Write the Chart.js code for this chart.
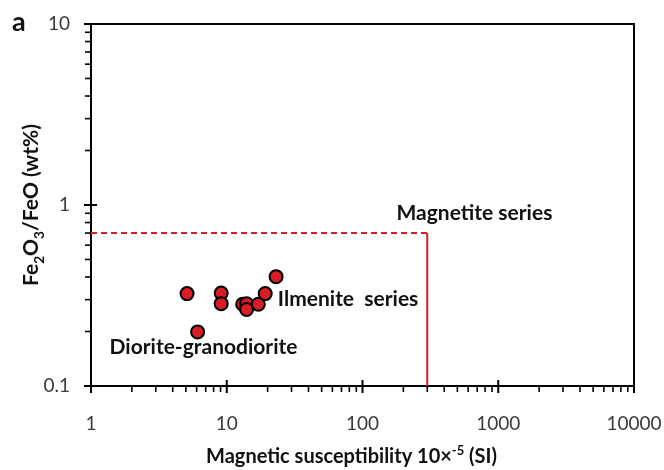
<!DOCTYPE html>
<html>
<head>
<meta charset="utf-8">
<script src="https://cdn.jsdelivr.net/npm/chart.js@4.4.0/dist/chart.umd.min.js"></script>
<style>
  body { margin: 0; background: #fff; }
  #wrap { width: 664px; height: 470px; }
</style>
</head>
<body>
<div id="wrap"><canvas id="chart" width="664" height="470"></canvas></div>
<script>
// samples: magnetic susceptibility (10^-5 SI) and Fe2O3/FeO (wt%)
const susceptibility = [5.1, 9.1, 9.1, 13.1, 14.0, 14.0, 17.1, 19.2, 23.1, 6.1];
const feRatio = [0.324, 0.326, 0.285, 0.283, 0.285, 0.265, 0.283, 0.324, 0.402, 0.199];

// magnetite / ilmenite series boundary
const boundaryX = 300;
const boundaryY = 0.7;

const xTicks = [1, 10, 100, 1000, 10000];
const yTicks = [0.1, 1, 10];
const xTickLabels = ["1", "10", "100", "1000", "10000"];
const yTickLabels = ["0.1", "1", "10"];

const labelTexts = ["Magnetite series", "Ilmenite  series", "Diorite-granodiorite"];
const labelAt = [[178, 0.9], [23.8, 0.303], [1.37, 0.164]];

const red = "#d81e24";
const font = "Lato, 'Open Sans', sans-serif";

const points = susceptibility.map((x, i) => ({ x: x, y: feRatio[i] }));

function minorValues(ticks) {
  const out = [];
  for (let i = 0; i < ticks.length - 1; i++) {
    for (let k = 2; k <= 9; k++) out.push(ticks[i] * k);
  }
  return out;
}

// draws text made of parts with sub/superscripts
function drawParts(ctx, parts, size, x, y) {
  let total = 0;
  parts.forEach(p => {
    ctx.font = "bold " + (p.s ? size * 0.65 : size) + "px " + font;
    total += ctx.measureText(p.t).width;
  });
  let cx = x - total / 2;
  parts.forEach(p => {
    ctx.font = "bold " + (p.s ? size * 0.65 : size) + "px " + font;
    let dy = 0;
    if (p.s === "sub") dy = size * 0.3;
    if (p.s === "sup") dy = -size * 0.38;
    ctx.fillText(p.t, cx, y + dy);
    cx += ctx.measureText(p.t).width;
  });
}

const decor = {
  id: "decor",
  beforeDatasetsDraw(chart) {
    const ctx = chart.ctx;
    const a = chart.chartArea;
    const xs = chart.scales.x, ys = chart.scales.y;
    ctx.save();
    ctx.strokeStyle = "#000";
    // frame
    ctx.lineWidth = 2;
    ctx.strokeRect(a.left, a.top, a.right - a.left, a.bottom - a.top);
    // x ticks
    xTicks.forEach(v => {
      const px = xs.getPixelForValue(v);
      ctx.beginPath(); ctx.moveTo(px, a.bottom - 6); ctx.lineTo(px, a.bottom + 7); ctx.stroke();
    });
    ctx.lineWidth = 1.6;
    minorValues(xTicks).forEach(v => {
      const px = xs.getPixelForValue(v);
      ctx.beginPath(); ctx.moveTo(px, a.bottom); ctx.lineTo(px, a.bottom + 6); ctx.stroke();
    });
    // y ticks
    ctx.lineWidth = 2;
    yTicks.forEach(v => {
      const py = ys.getPixelForValue(v);
      ctx.beginPath(); ctx.moveTo(a.left - 7, py); ctx.lineTo(a.left + 6, py); ctx.stroke();
    });
    ctx.lineWidth = 1.6;
    minorValues(yTicks).forEach(v => {
      const py = ys.getPixelForValue(v);
      ctx.beginPath(); ctx.moveTo(a.left - 6, py); ctx.lineTo(a.left, py); ctx.stroke();
    });
    ctx.restore();
  },
  afterDraw(chart) {
    const ctx = chart.ctx;
    const a = chart.chartArea;
    const xs = chart.scales.x, ys = chart.scales.y;
    ctx.save();
    ctx.fillStyle = "#111";
    ctx.textBaseline = "middle";
    ctx.textAlign = "left";
    ctx.font = "bold 21px " + font;
    labelTexts.forEach((t, i) => {
      ctx.fillText(t, xs.getPixelForValue(labelAt[i][0]), ys.getPixelForValue(labelAt[i][1]));
    });
    // panel letter
    ctx.textBaseline = "alphabetic";
    ctx.font = "bold 27px " + font;
    ctx.fillText("a", 12, 31);
    // x title
    drawParts(ctx, [
      { t: "Magnetic susceptibility 10\u00d7" }, { t: "-5", s: "sup" }, { t: " (SI)" }
    ], 20, (a.left + a.right) / 2 - 11, 463);
    // y title
    ctx.translate(38, (a.top + a.bottom) / 2);
    ctx.rotate(-Math.PI / 2);
    drawParts(ctx, [
      { t: "Fe" }, { t: "2", s: "sub" }, { t: "O" }, { t: "3", s: "sub" }, { t: "/FeO (wt%)" }
    ], 21, 0, 0);
    ctx.restore();
  }
};

new Chart(document.getElementById("chart"), {
  type: "scatter",
  data: {
    datasets: [
      {
        data: points,
        backgroundColor: red,
        borderColor: "#000",
        borderWidth: 2,
        pointRadius: 6.5,
        order: 0
      },
      {
        type: "line",
        data: [{ x: xTicks[0], y: boundaryY }, { x: boundaryX, y: boundaryY }],
        borderColor: red,
        borderWidth: 2,
        borderDash: [6, 4],
        pointRadius: 0,
        order: 1
      },
      {
        type: "line",
        data: [{ x: boundaryX, y: boundaryY }, { x: boundaryX, y: yTicks[0] }],
        borderColor: red,
        borderWidth: 2,
        pointRadius: 0,
        order: 1
      }
    ]
  },
  options: {
    responsive: false,
    animation: false,
    layout: { padding: { top: 24, right: 30, left: 0, bottom: 0 } },
    plugins: { legend: { display: false }, tooltip: { enabled: false } },
    scales: {
      x: {
        type: "logarithmic",
        min: xTicks[0],
        max: xTicks[xTicks.length - 1],
        grid: { display: false },
        border: { display: false },
        afterBuildTicks: s => { s.ticks = xTicks.map(v => ({ value: v })); },
        afterFit: s => { s.height = 84; s.paddingLeft = 0; s.paddingRight = 0; },
        ticks: {
          autoSkip: false,
          maxRotation: 0,
          padding: 18,
          color: "#3a3a3a",
          font: { family: font, size: 19 },
          callback: v => xTickLabels[xTicks.indexOf(v)]
        }
      },
      y: {
        type: "logarithmic",
        min: yTicks[0],
        max: yTicks[yTicks.length - 1],
        grid: { display: false },
        border: { display: false },
        afterBuildTicks: s => { s.ticks = yTicks.map(v => ({ value: v })); },
        afterFit: s => { s.width = 91; s.paddingTop = 0; s.paddingBottom = 0; },
        ticks: {
          autoSkip: false,
          padding: 13,
          color: "#3a3a3a",
          font: { family: font, size: 19 },
          callback: v => yTickLabels[yTicks.indexOf(v)]
        }
      }
    }
  },
  plugins: [decor]
});
</script>
</body>
</html>
